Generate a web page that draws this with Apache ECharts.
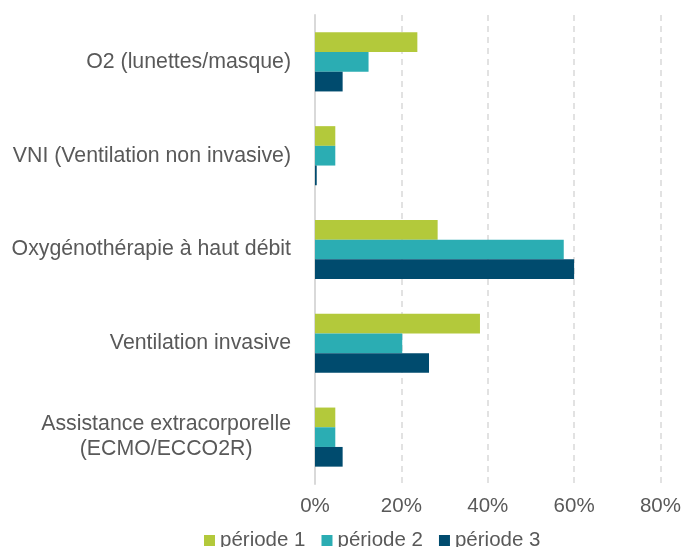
<!DOCTYPE html>
<html>
<head>
<meta charset="utf-8">
<script src="https://cdn.jsdelivr.net/npm/echarts@6/dist/echarts.min.js"></script>
<style>
	html, body { margin: 0; padding: 0; background: #fff; }
	#chart { width: 684px; height: 547px; }
</style>
</head>
<body>
<div id="chart"></div>
<script>
	var categories = [
		"O2 (lunettes/masque)",
		"VNI (Ventilation non invasive)",
		"Oxygénothérapie à haut débit",
		"Ventilation invasive",
		"Assistance extracorporelle\n(ECMO/ECCO2R)"
	];
	var periode1 = [23.7, 4.7, 28.4, 38.2, 4.7];
	var periode2 = [12.4, 4.7, 57.6, 20.2, 4.7];
	var periode3 = [6.4, 0.4, 60.0, 26.4, 6.4];
	var seriesNames = ["période 1", "période 2", "période 3"];
	var colors = ["#B3C93B", "#2BADB3", "#004B6E"];

	var chart = echarts.init(document.getElementById("chart"));
	var font = "'Liberation Sans', Arial, sans-serif";

	function bar(name, data, color) {
		return {
			name: name,
			type: "bar",
			data: data,
			barGap: "0%",
			barCategoryGap: "37%",
			itemStyle: { color: color },
			emphasis: { disabled: true }
		};
	}

	chart.setOption({
		animation: false,
		textStyle: { fontFamily: font },
		grid: {
			left: 315,
			right: 23,
			top: 15,
			bottom: 63,
			containLabel: false
		},
		legend: {
			left: 199,
			bottom: -9,
			itemWidth: 11,
			itemHeight: 11,
			itemGap: 16,
			icon: "rect",
			textStyle: { fontSize: 20.5, color: "#595959", fontFamily: font },
			data: seriesNames
		},
		xAxis: {
			type: "value",
			min: 0,
			max: 80,
			interval: 20,
			axisLabel: {
				formatter: "{value}%",
				fontSize: 20.5,
				color: "#595959",
				margin: 12
			},
			axisLine: { show: false },
			axisTick: { show: false },
			splitLine: {
				show: true,
				lineStyle: { color: "#d9d9d9", width: 1.5, type: [6, 5] }
			}
		},
		yAxis: {
			type: "category",
			inverse: true,
			data: categories,
			axisTick: { show: false },
			axisLine: { show: true, lineStyle: { color: "#d9d9d9", width: 2 } },
			axisLabel: {
				margin: 24,
				fontSize: 21.3,
				color: "#595959",
				formatter: function (v) {
					return v.split("\n").map(function (l) { return "{a|" + l + "}"; }).join("\n");
				},
				rich: {
					a: { fontSize: 21.3, color: "#595959", align: "center", lineHeight: 25, fontFamily: font }
				}
			}
		},
		series: [
			bar(seriesNames[0], periode1, colors[0]),
			bar(seriesNames[1], periode2, colors[1]),
			bar(seriesNames[2], periode3, colors[2])
		]
	});
</script>
</body>
</html>
